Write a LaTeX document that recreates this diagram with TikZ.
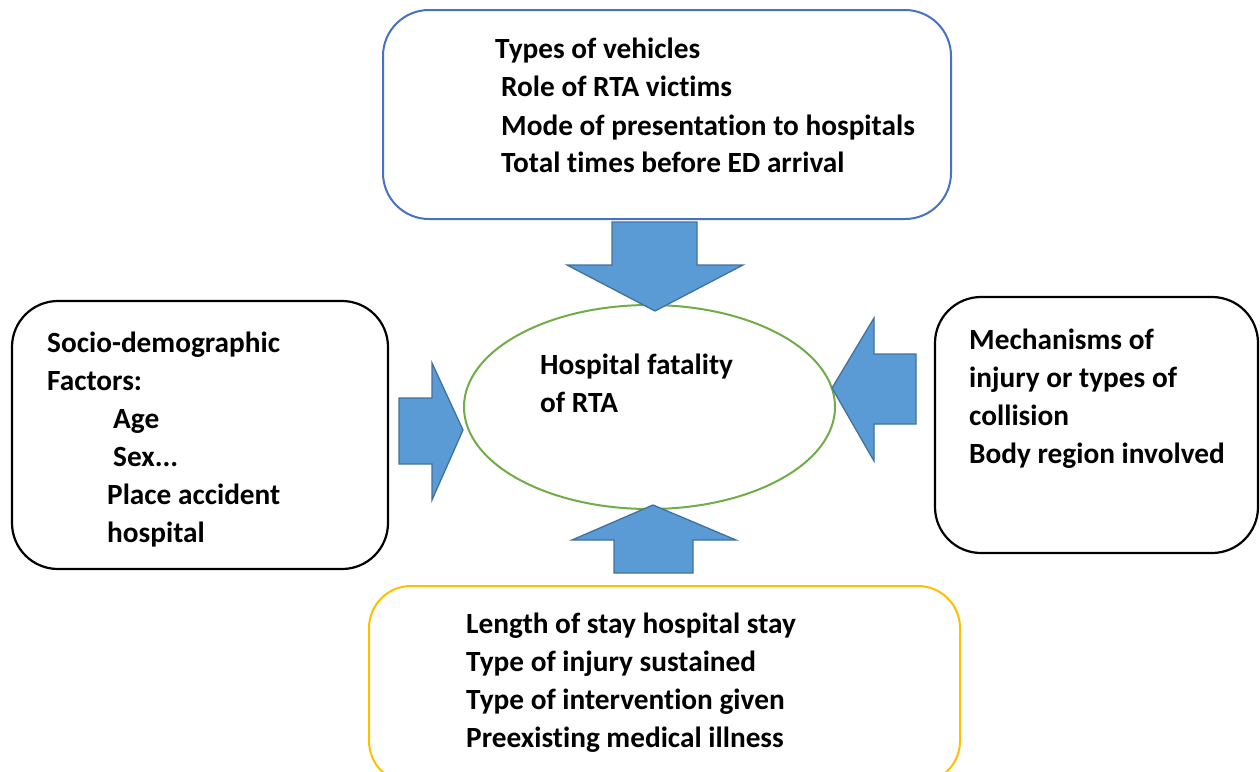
\documentclass[tikz,border=0pt]{standalone}
\usepackage{fontspec}
\setmainfont{Carlito}[Ligatures=NoCommon]
\usetikzlibrary{shapes.geometric}
\definecolor{boxblue}{HTML}{4472C4}
\definecolor{arrfill}{HTML}{5B9BD5}
\definecolor{arrline}{HTML}{41719C}
\definecolor{ellgreen}{HTML}{70AD47}
\definecolor{boxyellow}{HTML}{FFC000}
\tikzset{
  frame/.style={draw, line width=2.2pt, rounded corners=46pt, minimum width=#1, inner sep=0pt},
  txt/.style={anchor=base west, inner sep=0pt, font=\fontsize{29.3}{38}\selectfont\bfseries},
  blockarrow/.style={fill=arrfill, draw=arrline, line width=1.3pt, line join=miter}
}
\begin{document}
\begin{tikzpicture}[x=1pt,y=-1pt]
\useasboundingbox (0,0) rectangle (1260,771);
\clip (0,0) rectangle (1260,771);
\fill[white] (0,0) rectangle (1260,771);
% frames
\node[frame=568pt, draw=boxblue, line width=2pt, minimum height=209pt] (topbox) at (667,114.5) {};
\node[frame=376pt, draw=black, minimum height=268pt] (leftbox) at (200,435) {};
\node[frame=323pt, draw=black, minimum height=256pt] (rightbox) at (1096.5,425) {};
\node[frame=591pt, draw=boxyellow, line width=2pt, minimum height=197pt, rounded corners=42pt] (botbox) at (664.5,684.5) {};
\node[ellipse, draw=ellgreen, line width=2pt, minimum width=371pt, minimum height=204pt, inner sep=0pt] (centre) at (649.5,407) {};
% block arrows
\draw[blockarrow] (612,222) -- (697,222) -- (697,265) -- (743,265) -- (655,311) -- (567,265) -- (612,265) -- cycle;
\draw[blockarrow] (653,505) -- (736,540) -- (693,540) -- (693,573) -- (614,573) -- (614,540) -- (572,540) -- cycle;
\draw[blockarrow] (399,398) -- (432,398) -- (432,363) -- (463,430) -- (432,500) -- (432,464) -- (399,464) -- cycle;
\draw[blockarrow] (832,388) -- (874,318) -- (874,354) -- (916,354) -- (916,424) -- (874,424) -- (874,461) -- cycle;
% texts
\node[txt] (t1) at (495,58) {Types of vehicles};
\node[txt] (t2) at (501,96) {Role of RTA victims};
\node[txt] (t3) at (501,135) {Mode of presentation to hospitals};
\node[txt] (t4) at (501,172) {Total times before ED arrival};
\node[txt] (l1) at (47,352) {Socio-demographic};
\node[txt] (l2) at (47,390) {Factors:};
\node[txt] (l3) at (113,428) {Age};
\node[txt] (l4) at (113,466) {Sex...};
\node[txt] (l5) at (107,504) {Place accident};
\node[txt] (l6) at (107,542) {hospital};
\node[txt] (c1) at (540,374) {Hospital fatality};
\node[txt] (c2) at (540,412) {of RTA};
\node[txt] (r1) at (969,349) {Mechanisms of};
\node[txt] (r2) at (969,387) {injury or types of};
\node[txt] (r3) at (969,425) {collision};
\node[txt] (r4) at (969,463) {Body region involved};
\node[txt] (b1) at (466,633) {Length of stay hospital stay};
\node[txt] (b2) at (466,671) {Type of injury sustained};
\node[txt] (b3) at (466,709) {Type of intervention given};
\node[txt] (b4) at (466,747) {Preexisting medical illness};
\end{tikzpicture}
\end{document}
